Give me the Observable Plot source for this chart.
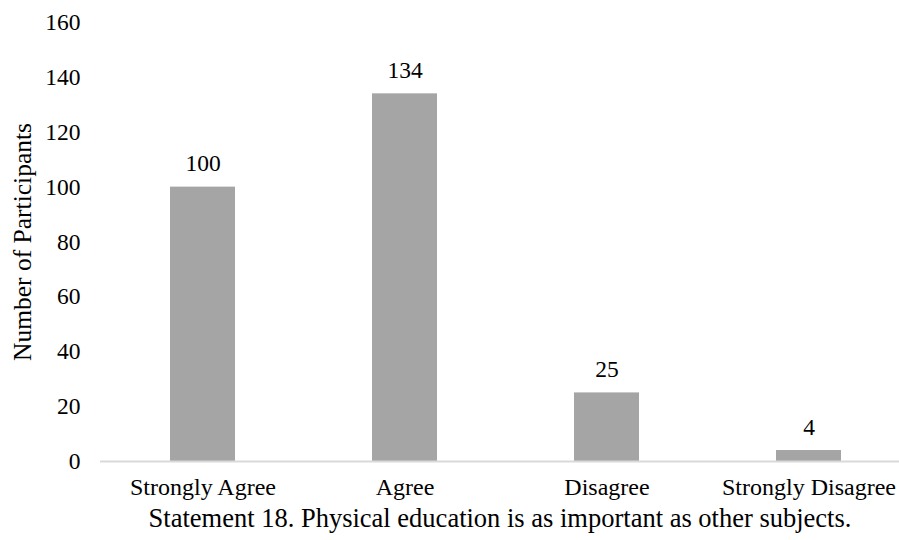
<!DOCTYPE html>
<html>
<head>
<meta charset="utf-8">
<script src="https://cdn.jsdelivr.net/npm/d3@7"></script>
<script src="https://cdn.jsdelivr.net/npm/@observablehq/plot@0.6"></script>
<style>
  html, body { margin: 0; padding: 0; background: #fff; }
  #chart svg { display: block; }
</style>
</head>
<body>
<div id="chart"></div>
<script>
// Survey responses to statement 18
const categories = ["Strongly Agree", "Agree", "Disagree", "Strongly Disagree"];
const counts = [100, 134, 25, 4];
const yTicks = [0, 20, 40, 60, 80, 100, 120, 140, 160];
const yTitle = "Number of Participants";
const caption = "Statement 18. Physical education is as important as other subjects.";

const rows = categories.map((c, i) => ({category: c, count: counts[i]}));

const font = "'Liberation Serif', 'Times New Roman', serif";

const chart = Plot.plot({
  width: 899,
  height: 540,
  marginLeft: 100,
  marginRight: 0,
  marginTop: 22,
  marginBottom: 79,
  style: {fontFamily: font, fontSize: "24px", color: "#000", background: "#fff"},
  x: {domain: categories, range: [100, 911], paddingInner: 0.68, paddingOuter: 0.34},
  y: {domain: [0, 160]},
  marks: [
    Plot.barY(rows, {x: "category", y: "count", fill: "#a5a5a5"}),
    Plot.ruleY([0], {stroke: "#d9d9d9", strokeWidth: 2}),
    // value labels above each bar
    Plot.text(rows, {x: "category", y: "count", text: d => String(d.count), lineAnchor: "middle", dy: -23.5, fontSize: 23.5, fill: "#000"}),
    Plot.axisY({ticks: yTicks, tickSize: 0, tickPadding: 20, label: null, fontSize: 23.5, tickFormat: d => String(d)}),
    Plot.axisX({tickSize: 0, tickPadding: 16, label: null, fontSize: 24}),
    // rotated y-axis title, centred on the plot area
    Plot.text([yTitle], {frameAnchor: "left", textAnchor: "middle", rotate: -90, dx: -78, fontSize: 25.5, fill: "#000"}),
    Plot.text([caption], {frameAnchor: "bottom", dy: 65, fontSize: 26.5, fill: "#000"})
  ]
});

document.getElementById("chart").appendChild(chart);
</script>
</body>
</html>
